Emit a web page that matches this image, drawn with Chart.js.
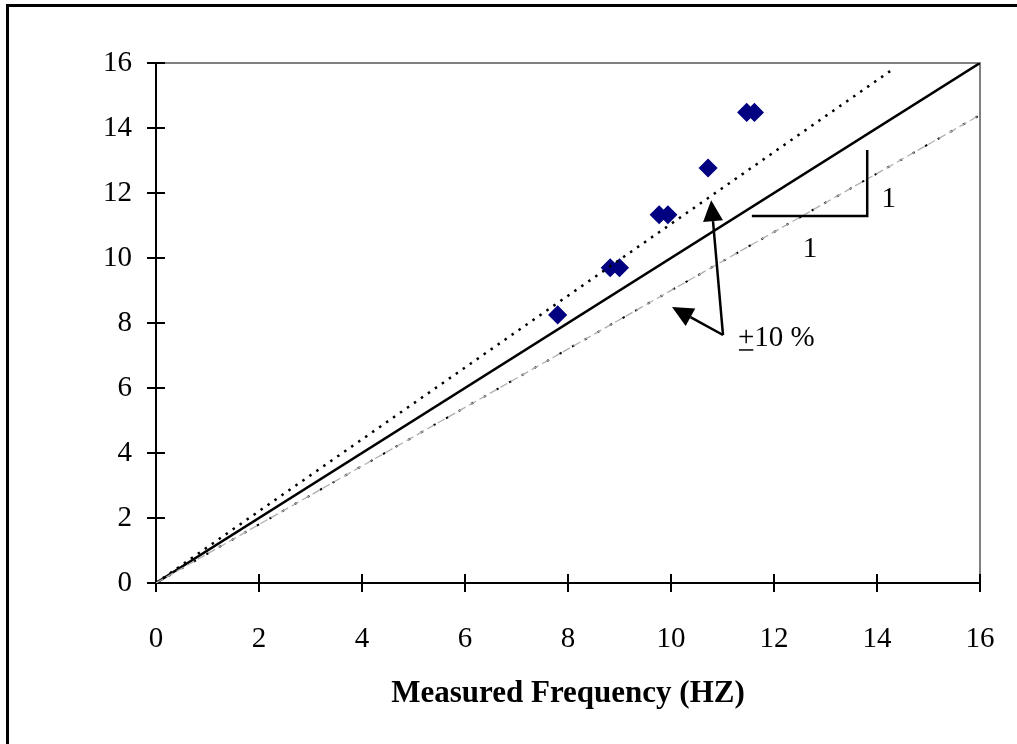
<!DOCTYPE html>
<html>
<head>
<meta charset="utf-8">
<script src="https://cdn.jsdelivr.net/npm/chart.js@4.4.1/dist/chart.umd.min.js"></script>
<style>
  html, body { margin: 0; padding: 0; background: #fff; }
</style>
</head>
<body>
<canvas id="chart" width="1017" height="744"></canvas>
<script>
// measured vs. predicted frequency (Hz)
const measured  = [7.8, 8.82, 9.0, 9.77, 9.94, 10.72, 11.47, 11.62];
const predicted = [8.25, 9.7, 9.7, 11.33, 11.33, 12.77, 14.48, 14.48];

const tickValues = [0, 2, 4, 6, 8, 10, 12, 14, 16];

const equalityX = [0, 16];
const equalityY = [0, 16];
const upperX = [0, 14.3];   // +10 %
const upperY = [0, 15.8];
const lowerX = [0, 16];     // -10 %
const lowerY = [0, 14.4];

const serif = "'Liberation Serif', 'Times New Roman', serif";

const toXY = (xs, ys) => xs.map((x, i) => ({x: x, y: ys[i]}));

// annotation spots, in chart units
const arrowBase = {x: 11.01, y: 7.63};
const arrowTips = [{x: 10.78, y: 11.78}, {x: 10.02, y: 8.49}];
const slopeBox = {x0: 11.57, x1: 13.81, y0: 11.29, y1: 13.32};

const frame = {
  id: 'frame',
  beforeDatasetsDraw(chart) {
    const {ctx, chartArea: a, scales: {x, y}} = chart;
    ctx.save();
    // outer border (left + top only visible)
    ctx.strokeStyle = '#000';
    ctx.lineWidth = 3;
    ctx.beginPath();
    ctx.moveTo(7.5, 800);
    ctx.lineTo(7.5, 5.5);
    ctx.lineTo(1100, 5.5);
    ctx.stroke();

    ctx.lineWidth = 2;
    ctx.strokeStyle = '#808080';
    ctx.beginPath();
    ctx.moveTo(a.left, a.top);
    ctx.lineTo(a.right, a.top);
    ctx.lineTo(a.right, a.bottom);
    ctx.stroke();

    ctx.strokeStyle = '#000';
    ctx.beginPath();
    ctx.moveTo(a.left, a.top);
    ctx.lineTo(a.left, a.bottom);
    ctx.lineTo(a.right, a.bottom);
    tickValues.forEach(v => {
      const px = x.getPixelForValue(v);
      ctx.moveTo(px, a.bottom - 9);
      ctx.lineTo(px, a.bottom + 9);
      const py = y.getPixelForValue(v);
      ctx.moveTo(a.left - 9, py);
      ctx.lineTo(a.left + 9, py);
    });
    ctx.stroke();
    ctx.restore();
  },
  afterDraw(chart) {
    const {ctx, scales: {x, y}} = chart;
    const px = p => ({x: x.getPixelForValue(p.x), y: y.getPixelForValue(p.y)});
    ctx.save();
    ctx.strokeStyle = '#000';
    ctx.fillStyle = '#000';
    ctx.lineWidth = 2.5;

    const b = px(arrowBase);
    arrowTips.forEach(t => {
      const tp = px(t);
      const ang = Math.atan2(tp.y - b.y, tp.x - b.x);
      const len = 21, half = 10;
      const bx = tp.x - Math.cos(ang) * len, by = tp.y - Math.sin(ang) * len;
      ctx.beginPath();
      ctx.moveTo(b.x, b.y);
      ctx.lineTo(bx, by);
      ctx.stroke();
      ctx.beginPath();
      ctx.moveTo(tp.x, tp.y);
      ctx.lineTo(bx + Math.sin(ang) * half, by - Math.cos(ang) * half);
      ctx.lineTo(bx - Math.sin(ang) * half, by + Math.cos(ang) * half);
      ctx.closePath();
      ctx.fill();
    });

    // slope triangle
    const s0 = px({x: slopeBox.x0, y: slopeBox.y0});
    const s1 = px({x: slopeBox.x1, y: slopeBox.y1});
    ctx.beginPath();
    ctx.moveTo(s0.x, s0.y);
    ctx.lineTo(s1.x, s0.y);
    ctx.lineTo(s1.x, s1.y);
    ctx.stroke();

    ctx.font = '29px ' + serif;
    ctx.textBaseline = 'middle';
    ctx.textAlign = 'center';
    const r = px({x: 14.23, y: 11.8});
    ctx.fillText('1', r.x, r.y);
    const d = px({x: 12.7, y: 10.25});
    ctx.fillText('1', d.x, d.y);

    // +10 % with underlined plus
    const t = px({x: 11.3, y: 7.54});
    ctx.textAlign = 'left';
    ctx.fillText('+10 %', t.x, t.y);
    const pw = ctx.measureText('+').width;
    ctx.lineWidth = 1.5;
    ctx.beginPath();
    ctx.moveTo(t.x + 1, t.y + 12);
    ctx.lineTo(t.x + pw - 1, t.y + 12);
    ctx.stroke();
    ctx.restore();
  }
};

new Chart(document.getElementById('chart'), {
  type: 'scatter',
  data: {
    datasets: [{
      label: 'lower',
      data: toXY(lowerX, lowerY),
      showLine: true,
      borderColor: '#b0b0b0',
      borderWidth: 1.3,
      borderDash: [8, 4],
      pointRadius: 0
    }, {
      label: 'lower dots',
      data: toXY(lowerX, lowerY),
      showLine: true,
      borderColor: '#000',
      borderWidth: 2,
      borderDash: [2.5, 12],
      pointRadius: 0
    }, {
      label: 'upper',
      data: toXY(upperX, upperY),
      showLine: true,
      borderColor: '#000',
      borderWidth: 2.5,
      borderDash: [2.5, 6],
      pointRadius: 0
    }, {
      label: 'equality',
      data: toXY(equalityX, equalityY),
      showLine: true,
      borderColor: '#000',
      borderWidth: 2.5,
      pointRadius: 0
    }, {
      label: 'measured',
      data: toXY(measured, predicted),
      pointStyle: 'rectRot',
      pointRadius: 8.5,
      pointBackgroundColor: '#000080',
      pointBorderColor: '#000080',
      pointBorderWidth: 1.5
    }]
  },
  options: {
    responsive: false,
    animation: false,
    devicePixelRatio: 1,
    layout: {padding: {top: 63, right: 37, left: 0, bottom: 0}},
    plugins: {legend: {display: false}, tooltip: {enabled: false}},
    scales: {
      x: {
        type: 'linear',
        min: 0,
        max: 16,
        afterFit: s => { s.height = 161; s.paddingLeft = 0; s.paddingRight = 0; },
        afterBuildTicks: s => { s.ticks = tickValues.map(v => ({value: v})); },
        grid: {display: false, drawTicks: false},
        border: {display: false},
        ticks: {color: '#000', padding: 39, maxRotation: 0, font: {family: serif, size: 29}},
        title: {
          display: true,
          text: 'Measured Frequency (HZ)',
          color: '#000',
          padding: {bottom: 31},
          font: {family: serif, size: 31, weight: 'bold'}
        }
      },
      y: {
        type: 'linear',
        min: 0,
        max: 16,
        afterFit: s => { s.width = 156; s.paddingTop = 0; s.paddingBottom = 0; },
        afterBuildTicks: s => { s.ticks = tickValues.map(v => ({value: v})); },
        grid: {display: false, drawTicks: false},
        border: {display: false},
        ticks: {color: '#000', padding: 24, font: {family: serif, size: 29}}
      }
    }
  },
  plugins: [frame]
});
</script>
</body>
</html>
